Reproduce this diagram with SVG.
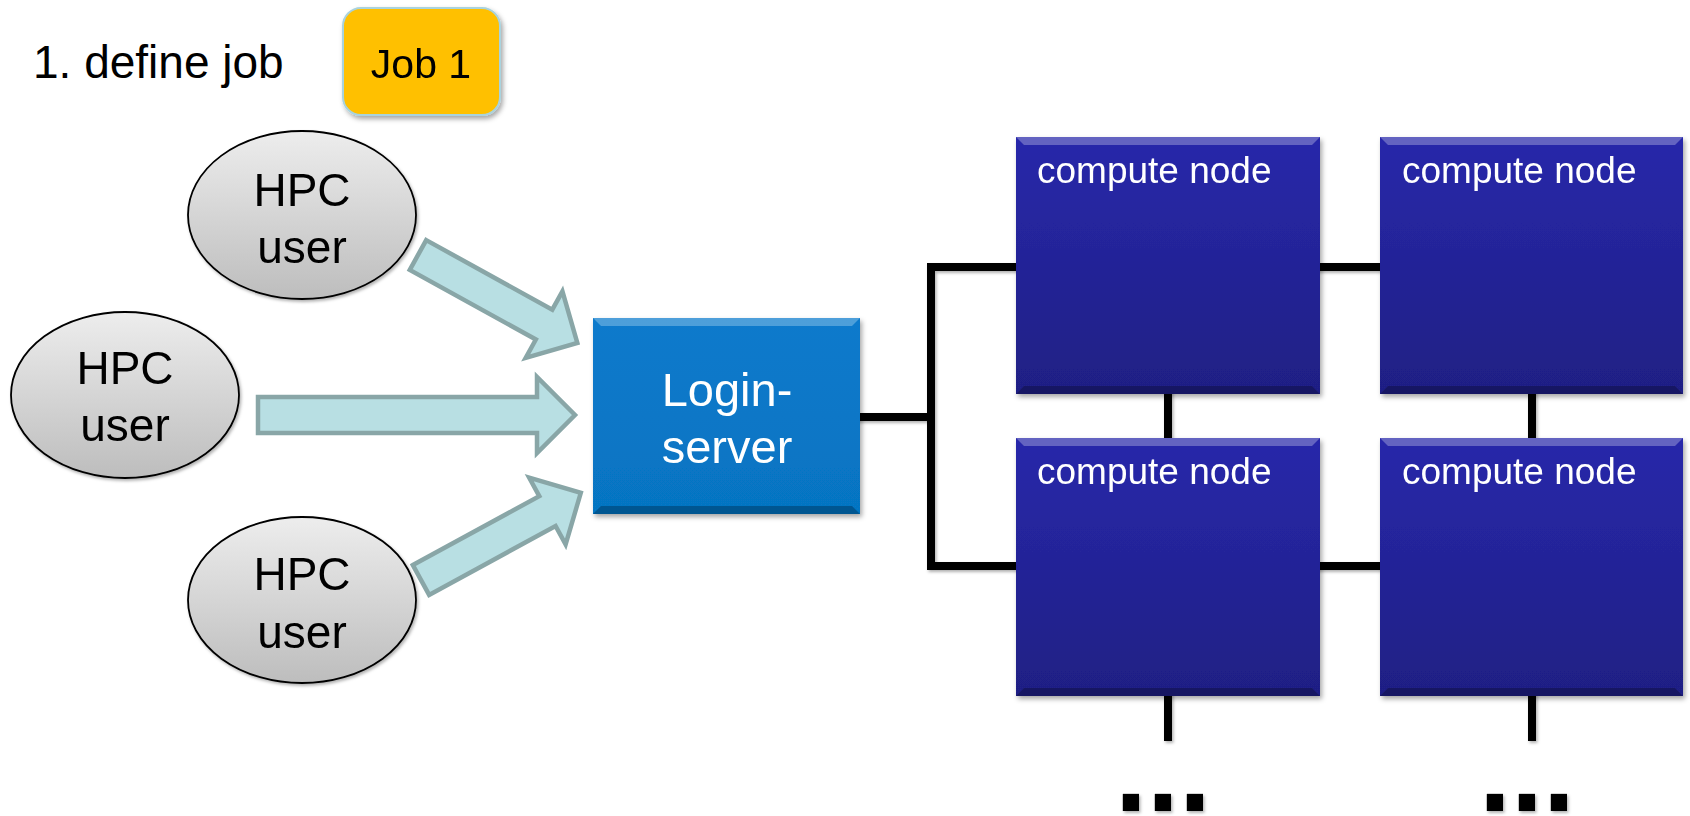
<svg xmlns="http://www.w3.org/2000/svg" width="1690" height="816" viewBox="0 0 1690 816">
<defs>
<linearGradient id="gEll" x1="0" y1="0" x2="0" y2="1">
<stop offset="0" stop-color="#EDEDED"/>
<stop offset="1" stop-color="#BDBDBD"/>
</linearGradient>
<linearGradient id="gNode" x1="0" y1="0" x2="0" y2="1">
<stop offset="0" stop-color="#2828AA"/>
<stop offset="1" stop-color="#1F1F84"/>
</linearGradient>
<linearGradient id="gLogin" x1="0" y1="0" x2="0" y2="1">
<stop offset="0" stop-color="#0A7ACC"/>
<stop offset="1" stop-color="#0674C2"/>
</linearGradient>
<filter id="sh" x="-10%" y="-10%" width="130%" height="130%">
<feDropShadow dx="2" dy="3" stdDeviation="2.5" flood-color="#000" flood-opacity="0.35"/>
</filter>
<filter id="shl" x="-10%" y="-10%" width="130%" height="130%">
<feDropShadow dx="1.5" dy="2" stdDeviation="1.5" flood-color="#000" flood-opacity="0.3"/>
</filter>
<polygon id="arrowShort" points="0,-17 144,-17 144,-38 182,0 144,38 144,17 0,17"/>
</defs>
<style>
.t{font-family:"Liberation Sans",Arial,sans-serif;}
.ell{fill:url(#gEll);stroke:#000;stroke-width:1.8;}
.ut{font-size:46px;fill:#000;text-anchor:middle;}
.arr{fill:#B8DFE3;stroke:#89A6A7;stroke-width:4.5;stroke-linejoin:miter;}
.cn{fill:url(#gNode);}
.cnt{font-size:37px;fill:#fff;}
.bevL{fill:#fff;opacity:0.28;}
.bevD{fill:#000;opacity:0.25;}
.ln{stroke:#000;stroke-width:8;fill:none;stroke-linecap:square;}
</style>
<rect width="1690" height="816" fill="#fff"/>

<g id="title">
<text class="t" x="33" y="78" font-size="46" fill="#000">1. define job</text>
</g>
<g id="job1" filter="url(#sh)">
<rect x="343" y="8" width="157" height="107" rx="18" fill="#FFC000" stroke="#A9D3DE" stroke-width="2"/>
<text class="t" x="421" y="78" font-size="41" fill="#000" text-anchor="middle">Job 1</text>
</g>

<g id="user1" filter="url(#shl)">
<ellipse class="ell" cx="302" cy="215" rx="114" ry="84"/>
<text class="t ut" x="302" y="206">HPC</text>
<text class="t ut" x="302" y="263">user</text>
</g>
<g id="user2" filter="url(#shl)">
<ellipse class="ell" cx="125" cy="395" rx="114" ry="83"/>
<text class="t ut" x="125" y="384">HPC</text>
<text class="t ut" x="125" y="441">user</text>
</g>
<g id="user3" filter="url(#shl)">
<ellipse class="ell" cx="302" cy="600" rx="114" ry="83"/>
<text class="t ut" x="302" y="590">HPC</text>
<text class="t ut" x="302" y="648">user</text>
</g>

<g id="arrows">
<use href="#arrowShort" class="arr" transform="translate(418,255) rotate(28.9)"/>
<polygon class="arr" points="258,397 537,397 537,377 575,415 537,453 537,433 258,433"/>
<use href="#arrowShort" class="arr" transform="translate(421,580) rotate(-28.6)"/>
</g>

<g id="connectors" filter="url(#shl)">
<line class="ln" x1="860" y1="417" x2="931" y2="417"/>
<line class="ln" x1="931" y1="267" x2="931" y2="566"/>
<line class="ln" x1="931" y1="267" x2="1016" y2="267"/>
<line class="ln" x1="931" y1="566" x2="1016" y2="566"/>
<line class="ln" x1="1320" y1="267" x2="1380" y2="267"/>
<line class="ln" x1="1320" y1="566" x2="1380" y2="566"/>
<line class="ln" x1="1168" y1="394" x2="1168" y2="438"/>
<line class="ln" x1="1532" y1="394" x2="1532" y2="438"/>
<line class="ln" x1="1168" y1="696" x2="1168" y2="737"/>
<line class="ln" x1="1532" y1="696" x2="1532" y2="737"/>
</g>

<g id="login" filter="url(#sh)">
<rect x="593" y="318" width="267" height="196" fill="url(#gLogin)"/>
<polygon class="bevL" points="593,318 860,318 852,326 601,326"/>
<polygon class="bevD" points="593,514 860,514 852,506 601,506"/>
<text class="t" x="727" y="406" font-size="47" fill="#fff" text-anchor="middle">Login-</text>
<text class="t" x="727" y="463" font-size="47" fill="#fff" text-anchor="middle">server</text>
</g>

<g id="node1" filter="url(#sh)">
<rect class="cn" x="1016" y="137" width="304" height="257"/>
<polygon class="bevL" points="1016,137 1320,137 1312,145 1024,145"/>
<polygon class="bevD" points="1016,394 1320,394 1312,386 1024,386"/>
<text class="t cnt" x="1037" y="183">compute node</text>
</g>
<g id="node2" filter="url(#sh)">
<rect class="cn" x="1380" y="137" width="303" height="257"/>
<polygon class="bevL" points="1380,137 1683,137 1675,145 1388,145"/>
<polygon class="bevD" points="1380,394 1683,394 1675,386 1388,386"/>
<text class="t cnt" x="1402" y="183">compute node</text>
</g>
<g id="node3" filter="url(#sh)">
<rect class="cn" x="1016" y="438" width="304" height="258"/>
<polygon class="bevL" points="1016,438 1320,438 1312,446 1024,446"/>
<polygon class="bevD" points="1016,696 1320,696 1312,688 1024,688"/>
<text class="t cnt" x="1037" y="484">compute node</text>
</g>
<g id="node4" filter="url(#sh)">
<rect class="cn" x="1380" y="438" width="303" height="258"/>
<polygon class="bevL" points="1380,438 1683,438 1675,446 1388,446"/>
<polygon class="bevD" points="1380,696 1683,696 1675,688 1388,688"/>
<text class="t cnt" x="1402" y="484">compute node</text>
</g>

<g id="dots" filter="url(#shl)">
<text class="t" x="1163" y="811" font-size="115" font-weight="bold" fill="#000" text-anchor="middle">...</text>
<text class="t" x="1527" y="811" font-size="115" font-weight="bold" fill="#000" text-anchor="middle">...</text>
</g>
</svg>
